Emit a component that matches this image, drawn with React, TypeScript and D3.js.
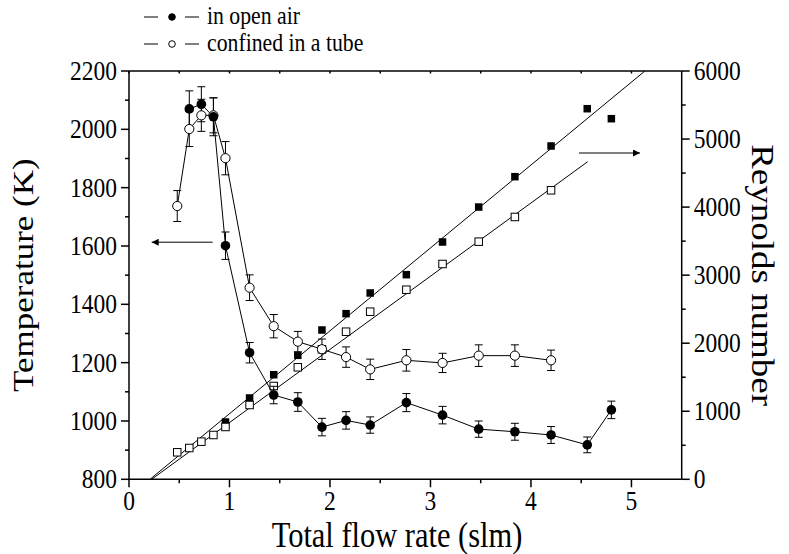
import React from "react";
import * as d3 from "d3";

// ---- data ----
const flowOpen = [0.6, 0.72, 0.84, 0.96, 1.2, 1.44, 1.68, 1.92, 2.16, 2.4, 2.76, 3.12, 3.48, 3.84, 4.2, 4.56, 4.8];
const tempOpen = [2070, 2086, 2043, 1601, 1234, 1089, 1065, 979, 1002, 986, 1063, 1020, 972, 963, 952, 918, 1038];
const errOpen = [62, 60, 65, 47, 35, 30, 32, 30, 30, 28, 31, 30, 28, 29, 29, 27, 30];

const flowTube = [0.48, 0.6, 0.72, 0.84, 0.96, 1.2, 1.44, 1.68, 1.92, 2.16, 2.4, 2.76, 3.12, 3.48, 3.84, 4.2];
const tempTube = [1737, 2001, 2048, 2048, 1901, 1457, 1325, 1272, 1246, 1219, 1177, 1208, 1199, 1224, 1224, 1208];
const errTube = [53, 60, 55, 60, 57, 44, 40, 35, 35, 35, 35, 37, 33, 37, 37, 35];

const flowReOpen = [0.96, 1.2, 1.44, 1.68, 1.92, 2.16, 2.4, 2.76, 3.12, 3.48, 3.84, 4.2, 4.56, 4.8];
const reOpen = [842, 1195, 1537, 1822, 2194, 2434, 2738, 3007, 3487, 4001, 4447, 4898, 5446, 5299];

const flowReTube = [0.48, 0.6, 0.72, 0.84, 0.96, 1.2, 1.44, 1.68, 1.92, 2.16, 2.4, 2.76, 3.12, 3.48, 3.84, 4.2];
const reTube = [397, 460, 553, 651, 769, 1092, 1371, 1646, 1910, 2169, 2463, 2786, 3164, 3492, 3855, 4247];

// linear fits (flow, Re) end points
const fitOpenFlow = [0.209, 5.134];
const fitOpenRe = [0, 6000];
const fitTubeFlow = [0.225, 4.564];
const fitTubeRe = [0, 4667];

// annotation arrows
const arrowLeftFlow = [0.833, 0.226];
const arrowLeftTemp = 1613;
const arrowRightFlow = [4.478, 5.085];
const arrowRightRe = 4795;

const xTicks = [0, 1, 2, 3, 4, 5];
const xMinor = [0.5, 1.5, 2.5, 3.5, 4.5];
const tTicks = [800, 1000, 1200, 1400, 1600, 1800, 2000, 2200];
const tMinor = [900, 1100, 1300, 1500, 1700, 1900, 2100];
const reTicks = [0, 1000, 2000, 3000, 4000, 5000, 6000];
const reMinor = [500, 1500, 2500, 3500, 4500, 5500];

const legendLabels = ["in open air", "confined in a tube"];

const W = 789, H = 554;
const L = 129, R = 681.7, T = 71, B = 479.3;
const FONT = "'Liberation Serif', 'Times New Roman', serif";
const SQZ = 0.87; // horizontal condensation of the glyphs

export default function App() {
  const x = d3.scaleLinear().domain([0, 5.5]).range([L, R]);
  const yT = d3.scaleLinear().domain([800, 2200]).range([B, T]);
  const yR = d3.scaleLinear().domain([0, 6000]).range([B, T]);
  const line = d3.line<[number, number]>().x(d => d[0]).y(d => d[1]);

  const ptsOpen = flowOpen.map((f, i) => [x(f), yT(tempOpen[i])] as [number, number]);
  const ptsTube = flowTube.map((f, i) => [x(f), yT(tempTube[i])] as [number, number]);

  const errBars = (flows: number[], temps: number[], errs: number[], key: string) =>
    flows.map((f, i) => {
      const cx = x(f), y1 = yT(temps[i] + errs[i]), y2 = yT(temps[i] - errs[i]);
      return (
        <g key={key + i} stroke="#000" strokeWidth={1}>
          <line x1={cx} x2={cx} y1={y1} y2={y2} />
          <line x1={cx - 4} x2={cx + 4} y1={y1} y2={y1} />
          <line x1={cx - 4} x2={cx + 4} y1={y2} y2={y2} />
        </g>
      );
    });

  const hText = (tx: number, ty: number, s: string | number, size: number, anchor: string, key?: string) => (
    <text key={key} transform={`translate(${tx},${ty}) scale(${SQZ},1)`} textAnchor={anchor} fontSize={size} fill="#000">{s}</text>
  );

  const sq = 7.5;
  return (
    <svg width={W} height={H} style={{ display: "block", position: "absolute", left: 0, top: 0 }} fontFamily={FONT}>
      <defs>
        <clipPath id="plotclip"><rect x={L} y={T} width={R - L} height={B - T} /></clipPath>
        <marker id="ah" viewBox="0 0 10 10" refX="10" refY="5" markerWidth="13" markerHeight="7" markerUnits="userSpaceOnUse" orient="auto">
          <path d="M0,0 L10,5 L0,10 z" fill="#000" />
        </marker>
      </defs>
      <rect x={0} y={0} width={W} height={H} fill="#fff" />

      {/* fit lines */}
      <g clipPath="url(#plotclip)" stroke="#000" strokeWidth={1} fill="none">
        <path d={line(fitOpenFlow.map((f, i) => [x(f), yR(fitOpenRe[i])]) as any) || ""} />
        <path d={line(fitTubeFlow.map((f, i) => [x(f), yR(fitTubeRe[i])]) as any) || ""} />
      </g>

      {/* Reynolds squares */}
      {flowReOpen.map((f, i) => (
        <rect key={"ro" + i} x={x(f) - sq / 2} y={yR(reOpen[i]) - sq / 2} width={sq} height={sq} fill="#000" />
      ))}
      {flowReTube.map((f, i) => (
        <rect key={"rt" + i} x={x(f) - sq / 2} y={yR(reTube[i]) - sq / 2} width={sq} height={sq} fill="#fff" stroke="#000" strokeWidth={1} />
      ))}

      {/* temperature series */}
      <path d={line(ptsTube) || ""} fill="none" stroke="#000" strokeWidth={1} />
      <path d={line(ptsOpen) || ""} fill="none" stroke="#000" strokeWidth={1} />
      {errBars(flowTube, tempTube, errTube, "et")}
      {errBars(flowOpen, tempOpen, errOpen, "eo")}
      {ptsTube.map((p, i) => (
        <circle key={"ct" + i} cx={p[0]} cy={p[1]} r={4.6} fill="#fff" stroke="#000" strokeWidth={1} />
      ))}
      {ptsOpen.map((p, i) => (
        <circle key={"co" + i} cx={p[0]} cy={p[1]} r={4.8} fill="#000" />
      ))}

      {/* arrows */}
      <line x1={x(arrowLeftFlow[0])} x2={x(arrowLeftFlow[1])} y1={yT(arrowLeftTemp)} y2={yT(arrowLeftTemp)} stroke="#000" strokeWidth={1} markerEnd="url(#ah)" />
      <line x1={x(arrowRightFlow[0])} x2={x(arrowRightFlow[1])} y1={yR(arrowRightRe)} y2={yR(arrowRightRe)} stroke="#000" strokeWidth={1} markerEnd="url(#ah)" />

      {/* axes frame */}
      <g stroke="#000" strokeWidth={1.5} fill="none">
        <line x1={L} x2={R} y1={B} y2={B} />
        <line x1={L} x2={R} y1={T} y2={T} />
        <line x1={L} x2={L} y1={T} y2={B} />
        <line x1={R} x2={R} y1={T} y2={B} />
        {xTicks.map(v => <line key={"xt" + v} x1={x(v)} x2={x(v)} y1={B} y2={B + 8} />)}
        {xMinor.map(v => <line key={"xm" + v} x1={x(v)} x2={x(v)} y1={B} y2={B + 4} />)}
        {xTicks.concat(xMinor).map(v => <line key={"xtt" + v} x1={x(v)} x2={x(v)} y1={T} y2={T + 2.5} />)}
        {tTicks.map(v => <line key={"tt" + v} x1={L - 8} x2={L} y1={yT(v)} y2={yT(v)} />)}
        {tMinor.map(v => <line key={"tm" + v} x1={L - 4} x2={L} y1={yT(v)} y2={yT(v)} />)}
        {reTicks.map(v => <line key={"rt" + v} x1={R} x2={R + 8} y1={yR(v)} y2={yR(v)} />)}
        {reMinor.map(v => <line key={"rm" + v} x1={R} x2={R + 4} y1={yR(v)} y2={yR(v)} />)}
      </g>

      {/* tick labels */}
      {xTicks.map(v => hText(x(v), B + 31, v, 27, "middle", "xl" + v))}
      {tTicks.map(v => hText(L - 12, yT(v) + 9, v, 27, "end", "tl" + v))}
      {reTicks.map(v => hText(R + 12, yR(v) + 9, v, 27, "start", "rl" + v))}

      {/* axis titles */}
      {hText(397, 547, "Total flow rate (slm)", 35, "middle")}
      <text transform={`translate(33,${(T + B) / 2}) rotate(-90) scale(1,${SQZ})`} textAnchor="middle" fontSize={35}>Temperature (K)</text>
      <text transform={`translate(752,${(T + B) / 2}) rotate(90) scale(1,${SQZ})`} textAnchor="middle" fontSize={37}>Reynolds number</text>

      {/* legend */}
      {legendLabels.map((lab, i) => {
        const cy = 17 + i * 27;
        return (
          <g key={"lg" + i}>
            <line x1={144} x2={158} y1={cy} y2={cy} stroke="#000" strokeWidth={1} />
            <line x1={185} x2={199} y1={cy} y2={cy} stroke="#000" strokeWidth={1} />
            <circle cx={172} cy={cy} r={3.3} fill={i === 0 ? "#000" : "#fff"} stroke="#000" strokeWidth={1} />
            {hText(207, cy + 7, lab, 25, "start")}
          </g>
        );
      })}
    </svg>
  );
}
